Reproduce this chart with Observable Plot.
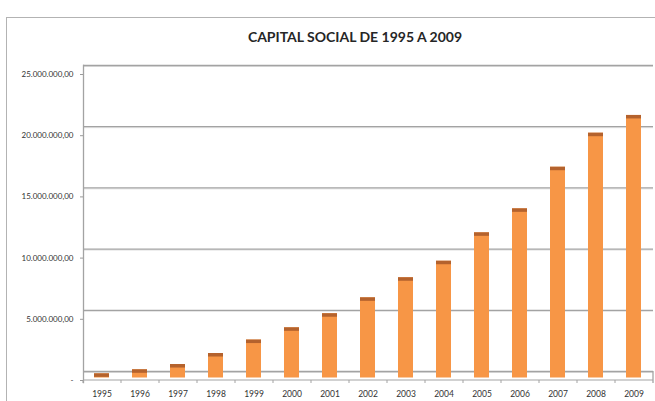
<!DOCTYPE html>
<html><head><meta charset="utf-8">
<script src="https://cdn.jsdelivr.net/npm/d3@7"></script>
<script src="https://cdn.jsdelivr.net/npm/@observablehq/plot@0.6"></script>
<style>
body{margin:0;background:#fff;width:655px;height:401px;overflow:hidden;position:relative;font-family:Lato,sans-serif}
#border{position:absolute;left:6px;top:17px;width:720px;height:430px;border:1px solid #b3b3b3}
#title{position:absolute;left:0;top:30px;width:710px;text-align:center;font:bold 14px/14px Lato,sans-serif;color:#262626}
#chart{position:absolute;left:0;top:50px}
</style></head><body>
<div id="border"></div>
<div id="title">CAPITAL SOCIAL DE 1995 A 2009</div>
<div id="chart"></div>
<script>
const years = ["1995","1996","1997","1998","1999","2000","2001","2002","2003","2004","2005","2006","2007","2008","2009"];
const capital = [340000, 670000, 1100000, 2000000, 3100000, 4100000, 5250000, 6550000, 8190000, 9540000, 11860000, 13820000, 17220000, 20000000, 21450000];
const yTicks = [0, 5000000, 10000000, 15000000, 20000000, 25000000];

const data = years.map((year, i) => ({year, value: capital[i]}));
const W = 655, H = 351, mL = 83, mR = 2;
const step = (W - mL - mR) / years.length;
const loc = d3.formatLocale({decimal: ",", thousands: ".", grouping: [3], currency: ["", ""]});
const f2 = loc.format(",.2f");
const fmt = v => v === 0 ? "-" : f2(v);

const chart = Plot.plot({
  width: W, height: H,
  marginLeft: mL, marginRight: mR, marginTop: 24, marginBottom: 21,
  style: {fontFamily: "Lato, sans-serif", background: "transparent"},
  x: {type: "band", domain: years, paddingInner: 0.6, paddingOuter: 0.3, label: null, axis: null},
  y: {domain: [0, 25000000], label: null, axis: null},
  marks: [
    Plot.ruleY(yTicks, {stroke: "#e2e2e2", strokeWidth: 1, dy: -8}),
    Plot.ruleY(yTicks, {stroke: "#a3a3a3", strokeWidth: 1.3, dy: -9}),
    Plot.frame({anchor: "left", stroke: "#a3a3a3", strokeWidth: 1.3, insetTop: -9, insetBottom: -2}),
    Plot.ruleY([0], {stroke: "#a3a3a3", strokeWidth: 1.2, dy: -0.5}),
    Plot.ruleX(years, {x: d => d, y1: 0, y2: 0, dx: -step / 2, insetBottom: -3, stroke: "#a3a3a3"}),
    Plot.ruleX(years.slice(-1), {x: d => d, y1: 0, y2: 0, dx: step / 2, insetTop: -9, insetBottom: -3, stroke: "#a3a3a3", strokeWidth: 1.3}),
    Plot.barY(data, {x: "year", y: "value", fill: "#F79646", dy: -2.5}),
    Plot.barY(data, {x: "year", y1: "value", y2: "value", fill: "#B4622D", insetBottom: -3.5, dy: -2.5}),
    Plot.axisY({ticks: yTicks, tickFormat: fmt, tickSize: 3, tickPadding: 7, stroke: "#9a9a9a", fill: "#333", fontSize: 8, label: null}),
    Plot.axisX({tickSize: 0, tickPadding: 10.5, fill: "#333", fontSize: 8.5, label: null})
  ]
});
document.getElementById("chart").append(chart);
</script>
</body></html>
